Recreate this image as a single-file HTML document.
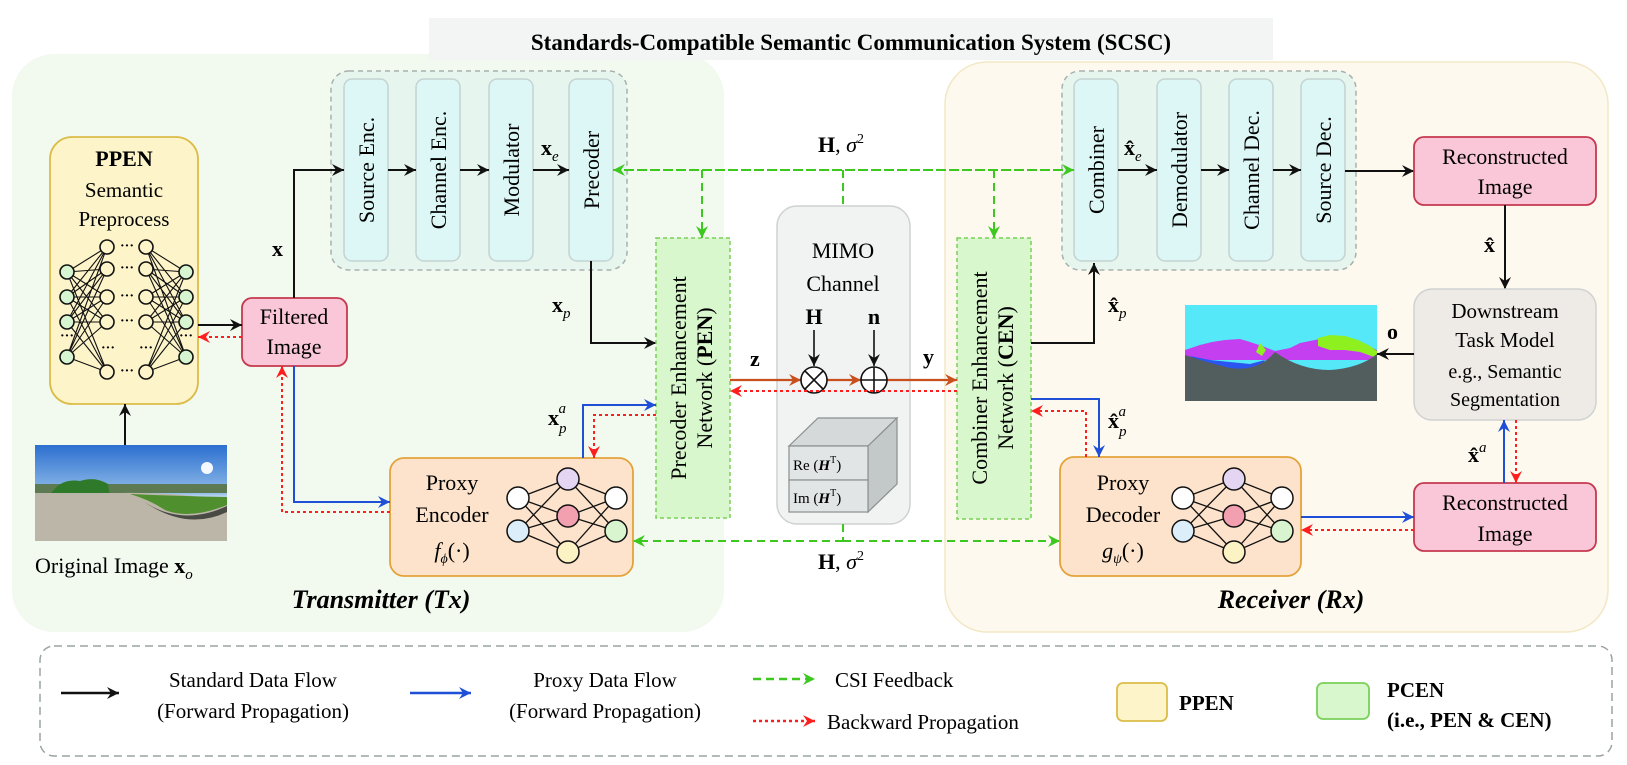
<!DOCTYPE html>
<html><head><meta charset="utf-8"><style>
html,body{margin:0;padding:0;background:#fff;}
svg{display:block;font-family:"Liberation Serif",serif;}
</style></head><body>
<svg width="1627" height="765" viewBox="0 0 1627 765" xmlns="http://www.w3.org/2000/svg">
<defs>
<marker id="mk" markerUnits="userSpaceOnUse" markerWidth="14" markerHeight="12" refX="12" refY="6" orient="auto"><path d="M0,0 L12,6 L0,12 L4,6 Z" fill="#111"/></marker>
<marker id="mb" markerUnits="userSpaceOnUse" markerWidth="14" markerHeight="12" refX="12" refY="6" orient="auto"><path d="M0,0 L12,6 L0,12 L4,6 Z" fill="#1f4fd6"/></marker>
<marker id="mr" markerUnits="userSpaceOnUse" markerWidth="14" markerHeight="12" refX="12" refY="6" orient="auto"><path d="M0,0 L12,6 L0,12 L4,6 Z" fill="#ff1e1e"/></marker>
<marker id="mg" markerUnits="userSpaceOnUse" markerWidth="14" markerHeight="12" refX="12" refY="6" orient="auto"><path d="M0,0 L12,6 L0,12 L4,6 Z" fill="#3cc81e"/></marker>
<marker id="mo" markerUnits="userSpaceOnUse" markerWidth="14" markerHeight="12" refX="12" refY="6" orient="auto"><path d="M0,0 L12,6 L0,12 L4,6 Z" fill="#c8501e"/></marker>
<linearGradient id="sky" x1="0" y1="0" x2="0" y2="1">
<stop offset="0" stop-color="#2c6fd0"/><stop offset="0.5" stop-color="#8fbbe8"/><stop offset="0.55" stop-color="#cfe0f0"/></linearGradient>
</defs>

<!-- regions -->
<rect x="12" y="54" width="712" height="578" rx="42" fill="#f2f9ef"/>
<rect x="945" y="62" width="663" height="570" rx="42" fill="#fdf9ee" stroke="#f3e8c6" stroke-width="1.5"/>

<!-- title -->
<rect x="429" y="18" width="844" height="42" fill="#f3f5f5"/>
<text x="851" y="50" text-anchor="middle" font-size="23" font-weight="bold">Standards-Compatible Semantic Communication System (SCSC)</text>

<!-- Tx dashed group -->
<rect x="331" y="71" width="296" height="199" rx="18" fill="#e6f6ee" stroke="#a8b0ae" stroke-width="1.5" stroke-dasharray="5,4"/>
<g fill="#dcf7f5" stroke="#c4d4d2" stroke-width="1.5">
<rect x="344" y="79" width="44" height="182" rx="8"/>
<rect x="416" y="79" width="44" height="182" rx="8"/>
<rect x="489" y="79" width="44" height="182" rx="8"/>
<rect x="569" y="79" width="44" height="182" rx="8"/>
</g>
<g font-size="22" text-anchor="middle">
<text transform="translate(374,170) rotate(-90)">Source Enc.</text>
<text transform="translate(446,170) rotate(-90)">Channel Enc.</text>
<text transform="translate(519,170) rotate(-90)">Modulator</text>
<text transform="translate(599,170) rotate(-90)">Precoder</text>
</g>
<g stroke="#111" stroke-width="2" fill="none">
<line x1="388" y1="170" x2="416" y2="170" marker-end="url(#mk)"/>
<line x1="460" y1="170" x2="489" y2="170" marker-end="url(#mk)"/>
<line x1="533" y1="170" x2="569" y2="170" marker-end="url(#mk)"/>
</g>
<text x="541" y="155" font-size="22" font-weight="bold">x<tspan font-size="15" font-style="italic" font-weight="normal" dy="6">e</tspan></text>

<!-- Rx dashed group -->
<rect x="1062" y="71" width="294" height="199" rx="18" fill="#e6f6ee" stroke="#a8b0ae" stroke-width="1.5" stroke-dasharray="5,4"/>
<g fill="#dcf7f5" stroke="#c4d4d2" stroke-width="1.5">
<rect x="1074" y="79" width="44" height="182" rx="8"/>
<rect x="1157" y="79" width="44" height="182" rx="8"/>
<rect x="1229" y="79" width="44" height="182" rx="8"/>
<rect x="1301" y="79" width="44" height="182" rx="8"/>
</g>
<g font-size="22" text-anchor="middle">
<text transform="translate(1104,170) rotate(-90)">Combiner</text>
<text transform="translate(1187,170) rotate(-90)">Demodulator</text>
<text transform="translate(1259,170) rotate(-90)">Channel Dec.</text>
<text transform="translate(1331,170) rotate(-90)">Source Dec.</text>
</g>
<g stroke="#111" stroke-width="2" fill="none">
<line x1="1118" y1="170" x2="1157" y2="170" marker-end="url(#mk)"/>
<line x1="1201" y1="170" x2="1229" y2="170" marker-end="url(#mk)"/>
<line x1="1273" y1="170" x2="1301" y2="170" marker-end="url(#mk)"/>
<line x1="1345" y1="171" x2="1414" y2="171" marker-end="url(#mk)"/>
</g>
<text x="1124" y="155" font-size="22" font-weight="bold">x̂<tspan font-size="15" font-style="italic" font-weight="normal" dy="6">e</tspan></text>

<!-- PPEN -->
<rect x="50" y="137" width="148" height="267" rx="22" fill="#fdf5c9" stroke="#dcbc48" stroke-width="1.8"/>
<text x="124" y="166" font-size="22" font-weight="bold" text-anchor="middle">PPEN</text>
<text x="124" y="197" font-size="21" text-anchor="middle">Semantic</text>
<text x="124" y="226" font-size="21" text-anchor="middle">Preprocess</text>
<path stroke="#111" stroke-width="1.1" fill="none" d="M67 272L107 247M67 272L107 269M67 272L107 297M67 272L107 322M67 272L107 372M67 297L107 247M67 297L107 269M67 297L107 297M67 297L107 322M67 297L107 372M67 322L107 247M67 322L107 269M67 322L107 297M67 322L107 322M67 322L107 372M67 357L107 247M67 357L107 269M67 357L107 297M67 357L107 322M67 357L107 372M186 272L146 247M186 272L146 269M186 272L146 297M186 272L146 322M186 272L146 372M186 297L146 247M186 297L146 269M186 297L146 297M186 297L146 322M186 297L146 372M186 322L146 247M186 322L146 269M186 322L146 297M186 322L146 322M186 322L146 372M186 357L146 247M186 357L146 269M186 357L146 297M186 357L146 322M186 357L146 372"/>
<g stroke="#111" stroke-width="1.6">
<g fill="#d6f5d0"><circle cx="67" cy="272" r="7"/><circle cx="67" cy="297" r="7"/><circle cx="67" cy="322" r="7"/><circle cx="67" cy="357" r="7"/>
<circle cx="186" cy="272" r="7"/><circle cx="186" cy="297" r="7"/><circle cx="186" cy="322" r="7"/><circle cx="186" cy="357" r="7"/></g>
<g fill="#fdf5c9"><circle cx="107" cy="247" r="7"/><circle cx="107" cy="269" r="7"/><circle cx="107" cy="297" r="7"/><circle cx="107" cy="322" r="7"/><circle cx="107" cy="372" r="7"/>
<circle cx="146" cy="247" r="7"/><circle cx="146" cy="269" r="7"/><circle cx="146" cy="297" r="7"/><circle cx="146" cy="322" r="7"/><circle cx="146" cy="372" r="7"/></g>
</g>
<g font-size="14" font-weight="bold" text-anchor="middle">
<text x="127" y="250">···</text><text x="127" y="272">···</text><text x="127" y="300">···</text><text x="127" y="325">···</text><text x="127" y="375">···</text>
<text x="108" y="352">···</text><text x="146" y="352">···</text><text x="67" y="340">···</text><text x="186" y="340">···</text>
</g>

<!-- Original image -->
<rect x="35" y="445" width="192" height="96" fill="url(#sky)"/>
<rect x="35" y="484" width="192" height="9" fill="#5d7a52"/>
<path d="M50 495 Q60 478 80 481 Q95 476 108 484 L110 496Z" fill="#2f7a2a"/>
<path d="M35 493 L120 493 Q170 492 227 500 L227 541 L35 541Z" fill="#bbb6a8"/>
<path d="M130 494 Q175 496 227 497 L227 505 Q190 520 165 510 Q150 500 130 494Z" fill="#4f8f2e"/>
<path d="M140 499 Q180 528 227 506 L227 512 Q185 532 140 499Z" fill="#4a4a44"/>
<circle cx="207" cy="468" r="6" fill="#f4f9ff"/>
<line x1="125" y1="445" x2="125" y2="404" stroke="#111" stroke-width="2" marker-end="url(#mk)"/>
<text x="35" y="573" font-size="22">Original Image <tspan font-weight="bold">x</tspan><tspan font-size="15" font-style="italic" dy="6">o</tspan></text>

<!-- Filtered image -->
<rect x="242" y="298" width="105" height="68" rx="10" fill="#f9c7d7" stroke="#c5394f" stroke-width="1.8"/>
<text x="294" y="324" font-size="22" text-anchor="middle">Filtered</text>
<text x="294" y="354" font-size="22" text-anchor="middle">Image</text>
<line x1="198" y1="325" x2="242" y2="325" stroke="#111" stroke-width="2" marker-end="url(#mk)"/>
<line x1="242" y1="337" x2="198" y2="337" stroke="#ff1e1e" stroke-width="2" stroke-dasharray="3,3" marker-end="url(#mr)"/>
<polyline points="294,298 294,170 344,170" fill="none" stroke="#111" stroke-width="2" marker-end="url(#mk)"/>
<text x="272" y="256" font-size="22" font-weight="bold">x</text>

<!-- Precoder to PEN -->
<polyline points="591,261 591,343 656,343" fill="none" stroke="#111" stroke-width="2" marker-end="url(#mk)"/>
<text x="552" y="312" font-size="22" font-weight="bold">x<tspan font-size="15" font-style="italic" font-weight="normal" dy="6">p</tspan></text>

<!-- PEN -->
<rect x="656" y="238" width="74" height="280" fill="#d8f7cc" stroke="#7ad05a" stroke-width="1.5" stroke-dasharray="4,3"/>
<g font-size="22" text-anchor="middle">
<text transform="translate(686,378) rotate(-90)">Precoder Enhancement</text>
<text transform="translate(712,378) rotate(-90)">Network (<tspan font-weight="bold">PEN</tspan>)</text>
</g>

<!-- CEN -->
<rect x="957" y="238" width="74" height="281" fill="#d8f7cc" stroke="#7ad05a" stroke-width="1.5" stroke-dasharray="4,3"/>
<g font-size="22" text-anchor="middle">
<text transform="translate(987,378) rotate(-90)">Combiner Enhancement</text>
<text transform="translate(1013,378) rotate(-90)">Network (<tspan font-weight="bold">CEN</tspan>)</text>
</g>

<!-- MIMO -->
<rect x="777" y="206" width="133" height="318" rx="20" fill="#f1f2f2" stroke="#cfd2d2" stroke-width="1.5"/>
<text x="843" y="258" font-size="22" text-anchor="middle">MIMO</text>
<text x="843" y="291" font-size="22" text-anchor="middle">Channel</text>
<text x="814" y="324" font-size="22" font-weight="bold" text-anchor="middle">H</text>
<text x="874" y="324" font-size="22" font-weight="bold" text-anchor="middle">n</text>
<line x1="814" y1="330" x2="814" y2="366" stroke="#111" stroke-width="1.6" marker-end="url(#mk)"/>
<line x1="874" y1="330" x2="874" y2="366" stroke="#111" stroke-width="1.6" marker-end="url(#mk)"/>
<line x1="730" y1="380" x2="801" y2="380" stroke="#c8501e" stroke-width="2.2" marker-end="url(#mo)"/>
<line x1="827" y1="380" x2="861" y2="380" stroke="#c8501e" stroke-width="2.2" marker-end="url(#mo)"/>
<line x1="887" y1="380" x2="957" y2="380" stroke="#c8501e" stroke-width="2.2" marker-end="url(#mo)"/>
<g stroke="#111" stroke-width="1.6" fill="#fff">
<circle cx="814" cy="380" r="13"/><path d="M805 371L823 389M823 371L805 389" fill="none"/>
<circle cx="874" cy="380" r="13"/><path d="M874 367V393M861 380H887" fill="none"/>
</g>
<line x1="957" y1="391" x2="730" y2="391" stroke="#ff1e1e" stroke-width="2" stroke-dasharray="3,3" marker-end="url(#mr)"/>
<text x="750" y="366" font-size="22" font-weight="bold">z</text>
<text x="923" y="364" font-size="22" font-weight="bold">y</text>
<!-- cube -->
<polygon points="789,446 818,418 897,418 868,446" fill="#d5d9d9" stroke="#8a8f8f" stroke-width="1.2"/>
<polygon points="868,446 897,418 897,484 868,512" fill="#c3c8c8" stroke="#8a8f8f" stroke-width="1.2"/>
<rect x="789" y="446" width="79" height="34" fill="#e2e5e5" stroke="#8a8f8f" stroke-width="1.2"/>
<rect x="789" y="480" width="79" height="32" fill="#e2e5e5" stroke="#8a8f8f" stroke-width="1.2"/>
<text x="793" y="470" font-size="15">Re (<tspan font-weight="bold" font-style="italic">H</tspan><tspan font-size="10" dy="-7">T</tspan><tspan dy="7">)</tspan></text>
<text x="793" y="503" font-size="15">Im (<tspan font-weight="bold" font-style="italic">H</tspan><tspan font-size="10" dy="-7">T</tspan><tspan dy="7">)</tspan></text>

<!-- CSI green -->
<g stroke="#3cc81e" stroke-width="2" stroke-dasharray="8,5" fill="none">
<line x1="1074" y1="170" x2="613" y2="170" marker-end="url(#mg)"/>
<line x1="613" y1="170" x2="1074" y2="170" marker-end="url(#mg)"/>
<line x1="702" y1="170" x2="702" y2="238" marker-end="url(#mg)"/>
<line x1="994" y1="170" x2="994" y2="238" marker-end="url(#mg)"/>
<line x1="843" y1="170" x2="843" y2="206"/>
<line x1="843" y1="524" x2="843" y2="541"/>
<line x1="843" y1="541" x2="633" y2="541" marker-end="url(#mg)"/>
<line x1="843" y1="541" x2="1060" y2="541" marker-end="url(#mg)"/>
</g>
<text x="818" y="152" font-size="22"><tspan font-weight="bold">H</tspan>, <tspan font-style="italic">σ</tspan><tspan font-size="14" dy="-9">2</tspan></text>
<text x="818" y="569" font-size="22"><tspan font-weight="bold">H</tspan>, <tspan font-style="italic">σ</tspan><tspan font-size="14" dy="-9">2</tspan></text>

<!-- Proxy encoder -->
<rect x="390" y="458" width="243" height="118" rx="14" fill="#fde3cb" stroke="#e4a33a" stroke-width="1.8"/>
<text x="452" y="490" font-size="22" text-anchor="middle">Proxy</text>
<text x="452" y="522" font-size="22" text-anchor="middle">Encoder</text>
<text x="452" y="558" font-size="22" text-anchor="middle"><tspan font-style="italic">f</tspan><tspan font-size="14" font-style="italic" dy="5">ϕ</tspan><tspan dy="-5">(·)</tspan></text>
<path stroke="#111" stroke-width="1.3" fill="none" d="M518 498L568 479M518 498L568 516M518 498L568 552M518 531L568 479M518 531L568 516M518 531L568 552M616 498L568 479M616 498L568 516M616 498L568 552M616 531L568 479M616 531L568 516M616 531L568 552"/>
<g stroke="#111" stroke-width="1.5">
<circle cx="518" cy="498" r="11" fill="#fff"/><circle cx="518" cy="531" r="11" fill="#dceefa"/>
<circle cx="568" cy="479" r="11" fill="#e4d6f2"/><circle cx="568" cy="516" r="11" fill="#f2a0b0"/><circle cx="568" cy="552" r="11" fill="#fbf3c4"/>
<circle cx="616" cy="498" r="11" fill="#fff"/><circle cx="616" cy="531" r="11" fill="#d8f5cf"/>
</g>
<polyline points="294,366 294,502 390,502" fill="none" stroke="#1f4fd6" stroke-width="2" marker-end="url(#mb)"/>
<polyline points="390,512 282,512 282,366" fill="none" stroke="#ff1e1e" stroke-width="2" stroke-dasharray="3,3" marker-end="url(#mr)"/>
<polyline points="583,458 583,405 656,405" fill="none" stroke="#1f4fd6" stroke-width="2" marker-end="url(#mb)"/>
<polyline points="656,415 594,415 594,458" fill="none" stroke="#ff1e1e" stroke-width="2" stroke-dasharray="3,3" marker-end="url(#mr)"/>
<text x="548" y="425" font-size="22" font-weight="bold">x<tspan font-size="15" font-style="italic" font-weight="normal" dy="8">p</tspan><tspan font-size="15" font-style="italic" font-weight="normal" dx="-8" dy="-20">a</tspan></text>

<!-- Proxy decoder -->
<rect x="1060" y="457" width="241" height="119" rx="14" fill="#fde3cb" stroke="#e4a33a" stroke-width="1.8"/>
<text x="1123" y="490" font-size="22" text-anchor="middle">Proxy</text>
<text x="1123" y="522" font-size="22" text-anchor="middle">Decoder</text>
<text x="1123" y="558" font-size="22" text-anchor="middle"><tspan font-style="italic">g</tspan><tspan font-size="14" font-style="italic" dy="5">ψ</tspan><tspan dy="-5">(·)</tspan></text>
<path stroke="#111" stroke-width="1.3" fill="none" d="M1183 498L1234 479M1183 498L1234 516M1183 498L1234 552M1183 531L1234 479M1183 531L1234 516M1183 531L1234 552M1282 498L1234 479M1282 498L1234 516M1282 498L1234 552M1282 531L1234 479M1282 531L1234 516M1282 531L1234 552"/>
<g stroke="#111" stroke-width="1.5">
<circle cx="1183" cy="498" r="11" fill="#fff"/><circle cx="1183" cy="531" r="11" fill="#dceefa"/>
<circle cx="1234" cy="479" r="11" fill="#e4d6f2"/><circle cx="1234" cy="516" r="11" fill="#f2a0b0"/><circle cx="1234" cy="552" r="11" fill="#fbf3c4"/>
<circle cx="1282" cy="498" r="11" fill="#fff"/><circle cx="1282" cy="531" r="11" fill="#d8f5cf"/>
</g>
<polyline points="1031,343 1094,343 1094,263" fill="none" stroke="#111" stroke-width="2" marker-end="url(#mk)"/>
<text x="1108" y="312" font-size="22" font-weight="bold">x̂<tspan font-size="15" font-style="italic" font-weight="normal" dy="6">p</tspan></text>
<polyline points="1031,399 1099,399 1099,457" fill="none" stroke="#1f4fd6" stroke-width="2" marker-end="url(#mb)"/>
<polyline points="1086,457 1086,411 1031,411" fill="none" stroke="#ff1e1e" stroke-width="2" stroke-dasharray="3,3" marker-end="url(#mr)"/>
<text x="1108" y="428" font-size="22" font-weight="bold">x̂<tspan font-size="15" font-style="italic" font-weight="normal" dy="8">p</tspan><tspan font-size="15" font-style="italic" font-weight="normal" dx="-8" dy="-20">a</tspan></text>

<!-- Rec images & downstream -->
<rect x="1414" y="137" width="182" height="68" rx="10" fill="#f9c7d7" stroke="#c5394f" stroke-width="1.8"/>
<text x="1505" y="164" font-size="22" text-anchor="middle">Reconstructed</text>
<text x="1505" y="194" font-size="22" text-anchor="middle">Image</text>
<line x1="1505" y1="205" x2="1505" y2="289" stroke="#111" stroke-width="2" marker-end="url(#mk)"/>
<text x="1484" y="252" font-size="22" font-weight="bold">x̂</text>
<rect x="1414" y="289" width="182" height="131" rx="18" fill="#eeeae6" stroke="#d0d2d2" stroke-width="1.5"/>
<text x="1505" y="318" font-size="21" text-anchor="middle">Downstream</text>
<text x="1505" y="347" font-size="21" text-anchor="middle">Task Model</text>
<text x="1505" y="378" font-size="20" text-anchor="middle">e.g., Semantic</text>
<text x="1505" y="406" font-size="20" text-anchor="middle">Segmentation</text>
<!-- segmentation -->
<rect x="1185" y="305" width="192" height="96" fill="#55e8f8"/>
<path d="M1185 350 L1200 345 L1212 342 L1225 340 L1240 339 L1250 342 L1262 346 L1275 351 L1290 348 L1300 343 L1315 340 L1330 337 L1345 338 L1360 342 L1377 350 L1377 360 L1185 360Z" fill="#c43ff0"/>
<path d="M1318 338 L1330 335 L1345 336 L1358 340 L1370 346 L1377 351 L1377 358 L1360 352 L1345 350 L1330 350 L1318 346Z" fill="#8ef01e"/>
<path d="M1260 343 L1266 350 L1262 356 L1256 352Z" fill="#8ef01e"/>
<path d="M1190 356 L1210 360 L1230 362 L1250 364 L1265 360 L1260 368 L1240 370 L1220 368 L1198 362Z" fill="#2a55f0"/>
<path d="M1185 355 Q1205 362 1230 368 Q1258 372 1275 352 Q1300 370 1330 370 Q1360 368 1377 354 L1377 401 L1185 401Z" fill="#525d5d"/>
<line x1="1414" y1="354" x2="1377" y2="354" stroke="#111" stroke-width="2" marker-end="url(#mk)"/>
<text x="1387" y="339" font-size="22" font-weight="bold">o</text>
<rect x="1414" y="483" width="182" height="68" rx="10" fill="#f9c7d7" stroke="#c5394f" stroke-width="1.8"/>
<text x="1505" y="510" font-size="22" text-anchor="middle">Reconstructed</text>
<text x="1505" y="541" font-size="22" text-anchor="middle">Image</text>
<line x1="1504" y1="483" x2="1504" y2="420" stroke="#1f4fd6" stroke-width="2" marker-end="url(#mb)"/>
<line x1="1516" y1="420" x2="1516" y2="483" stroke="#ff1e1e" stroke-width="2" stroke-dasharray="3,3" marker-end="url(#mr)"/>
<text x="1468" y="462" font-size="22" font-weight="bold">x̂<tspan font-size="15" font-style="italic" font-weight="normal" dy="-10">a</tspan></text>
<line x1="1301" y1="517" x2="1414" y2="517" stroke="#1f4fd6" stroke-width="2" marker-end="url(#mb)"/>
<line x1="1414" y1="530" x2="1301" y2="530" stroke="#ff1e1e" stroke-width="2" stroke-dasharray="3,3" marker-end="url(#mr)"/>

<text x="381" y="608" font-size="26" font-weight="bold" font-style="italic" text-anchor="middle">Transmitter (Tx)</text>
<text x="1291" y="608" font-size="26" font-weight="bold" font-style="italic" text-anchor="middle">Receiver (Rx)</text>

<!-- Legend -->
<rect x="40" y="646" width="1572" height="110" rx="14" fill="#fff" stroke="#9aa3a3" stroke-width="1.5" stroke-dasharray="8,5"/>
<line x1="61" y1="693" x2="119" y2="693" stroke="#111" stroke-width="2.5" marker-end="url(#mk)"/>
<text x="253" y="687" font-size="21" text-anchor="middle">Standard Data Flow</text>
<text x="253" y="718" font-size="21" text-anchor="middle">(Forward Propagation)</text>
<line x1="410" y1="693" x2="471" y2="693" stroke="#1f4fd6" stroke-width="2.5" marker-end="url(#mb)"/>
<text x="605" y="687" font-size="21" text-anchor="middle">Proxy Data Flow</text>
<text x="605" y="718" font-size="21" text-anchor="middle">(Forward Propagation)</text>
<line x1="753" y1="679" x2="815" y2="679" stroke="#3cc81e" stroke-width="2.5" stroke-dasharray="8,5" marker-end="url(#mg)"/>
<text x="835" y="687" font-size="21">CSI Feedback</text>
<line x1="753" y1="721" x2="815" y2="721" stroke="#ff1e1e" stroke-width="2.5" stroke-dasharray="3,3" marker-end="url(#mr)"/>
<text x="827" y="729" font-size="21">Backward Propagation</text>
<rect x="1117" y="683" width="50" height="38" rx="6" fill="#fdf5c9" stroke="#dcbc48" stroke-width="1.8"/>
<text x="1179" y="710" font-size="21" font-weight="bold">PPEN</text>
<rect x="1317" y="683" width="52" height="36" rx="6" fill="#d8f7cc" stroke="#7ad05a" stroke-width="1.8"/>
<text x="1387" y="697" font-size="21" font-weight="bold">PCEN</text>
<text x="1387" y="727" font-size="21" font-weight="bold">(i.e., PEN &amp; CEN)</text>
</svg>
</body></html>
